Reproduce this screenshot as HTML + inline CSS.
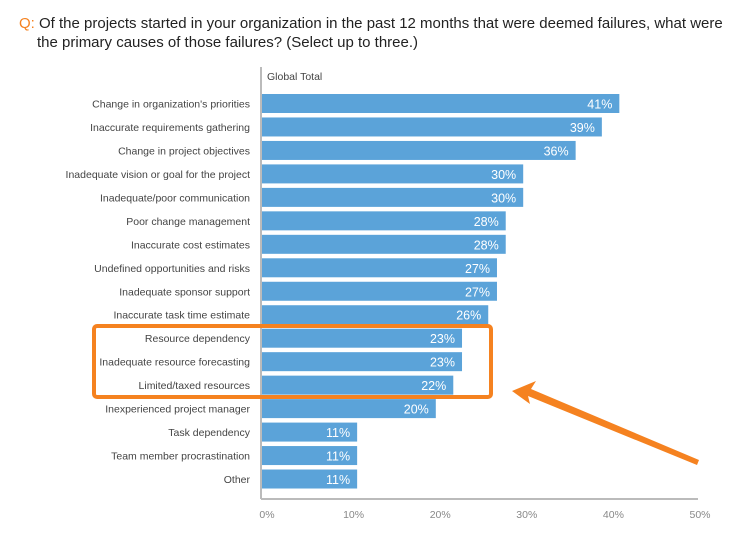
<!DOCTYPE html>
<html><head><meta charset="utf-8"><style>
body{margin:0;background:#fff;font-family:"Liberation Sans",sans-serif;}
svg text{font-family:"Liberation Sans",sans-serif;}
</style></head><body>
<svg width="747" height="538" viewBox="0 0 747 538">
<text x="19" y="28" font-size="15" fill="#222"><tspan fill="#f58220">Q:</tspan> Of the projects started in your organization in the past 12 months that were deemed failures, what were</text>
<text x="37" y="47" font-size="15" fill="#222">the primary causes of those failures? (Select up to three.)</text>
<text x="267" y="80" font-size="10.5" fill="#444">Global Total</text>
<g id="bars"></g>
<line x1="261" y1="67" x2="261" y2="499" stroke="#bbb" stroke-width="2"/>
<line x1="261" y1="499" x2="698" y2="499" stroke="#bbb" stroke-width="2"/>
<g id="ticks"></g>
<rect x="94" y="326" width="397" height="71" rx="3" fill="none" stroke="#f58220" stroke-width="4"/>
<polygon points="512,391 536,381 531,389 699,460 697,465 528,396 530,404" fill="#f58220"/>
</svg>
<script>
const categories=["Change in organization's priorities","Inaccurate requirements gathering","Change in project objectives","Inadequate vision or goal for the project","Inadequate/poor communication","Poor change management","Inaccurate cost estimates","Undefined opportunities and risks","Inadequate sponsor support","Inaccurate task time estimate","Resource dependency","Inadequate resource forecasting","Limited/taxed resources","Inexperienced project manager","Task dependency","Team member procrastination","Other"];
const values=[41,39,36,30,30,28,28,27,27,26,23,23,22,20,11,11,11];
const tickLabels=["0%","10%","20%","30%","40%","50%"];
const tickValues=[0,10,20,30,40,50];
const NS="http://www.w3.org/2000/svg";
const x=v=>261+v*8.74;
const y=i=>94+i*23.47;
const bars=document.getElementById('bars');
function mk(t,a,p){const e=document.createElementNS(NS,t);for(const k in a)e.setAttribute(k,a[k]);p.appendChild(e);return e;}
categories.forEach((c,i)=>{
 const r=mk('rect',{x:261,y:y(i),width:x(values[i])-261,height:19,fill:'#5ba3d9'},bars);
 
 
 const l=mk('text',{x:250,y:y(i)+13.5,'text-anchor':'end','font-size':'10.5',fill:'#444'},bars);
 l.textContent=c;
 
 
 const v=mk('text',{x:x(values[i])-7,y:y(i)+14.5,'text-anchor':'end','font-size':'12.5',fill:'#fff'},bars);
 v.textContent=values[i]+'%';
 
 
});
const ticks=document.getElementById('ticks');
tickValues.forEach((t,i)=>{
 const e=mk('text',{x:267+t*8.66,y:518,'text-anchor':'middle','font-size':'10.5',fill:'#888'},ticks);
 e.textContent=tickLabels[i];
 
 
});
</script>
</body></html>
